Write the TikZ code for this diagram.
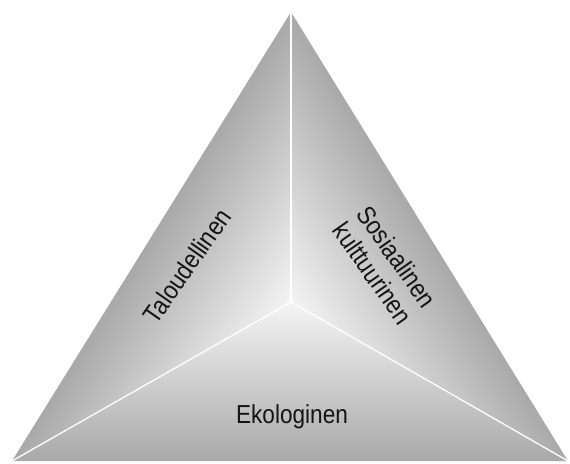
\documentclass[tikz,border=0pt]{standalone}
\usepackage{fontspec}
\setmainfont[FakeStretch=0.87]{Liberation Sans}
\definecolor{edgegray}{gray}{0.66}
\definecolor{midgray}{gray}{0.84}
\definecolor{centergray}{gray}{0.96}
\tikzset{
  seam/.style={draw=white, line width=1.3pt},
  facelabel/.style={font=\fontsize{26}{29}\selectfont, text=black!92, align=center, inner sep=0pt}
}
\begin{document}
\begin{tikzpicture}[x=1pt,y=1pt]
\useasboundingbox (0,0) rectangle (570,463);
\coordinate (A) at (291,451);
\coordinate (BL) at (12,2);
\coordinate (BR) at (568,2);
\coordinate (C) at (291,161);
% left face
\begin{scope}
  \clip (A) -- (BL) -- (C) -- cycle;
  \begin{scope}[transform canvas={shift={(12,2)}, rotate=58.15}]
    \shade[top color=edgegray, middle color=midgray, bottom color=centergray] (-100,-155) rectangle (700,1);
  \end{scope}
\end{scope}
% right face
\begin{scope}
  \clip (A) -- (BR) -- (C) -- cycle;
  \begin{scope}[transform canvas={shift={(568,2)}, rotate=121.67}]
    \shade[bottom color=edgegray, middle color=midgray, top color=centergray] (-100,-1) rectangle (700,155);
  \end{scope}
\end{scope}
% bottom face
\begin{scope}
  \clip (BL) -- (BR) -- (C) -- cycle;
  \shade[bottom color=edgegray, middle color=midgray, top color=centergray] (0,1) rectangle (570,162);
\end{scope}
% seams
\draw[seam] (C) -- (A);
\draw[seam] (C) -- (BL);
\draw[seam] (C) -- (BR);
% labels
\node[facelabel, rotate=55] (tal) at (187,197) {Taloudellinen};
\node[facelabel, rotate=-55] (sos) at (385,198) {Sosiaalinen\\kulttuurinen};
\node[facelabel] (eko) at (292,46) {Ekologinen};
\end{tikzpicture}
\end{document}
